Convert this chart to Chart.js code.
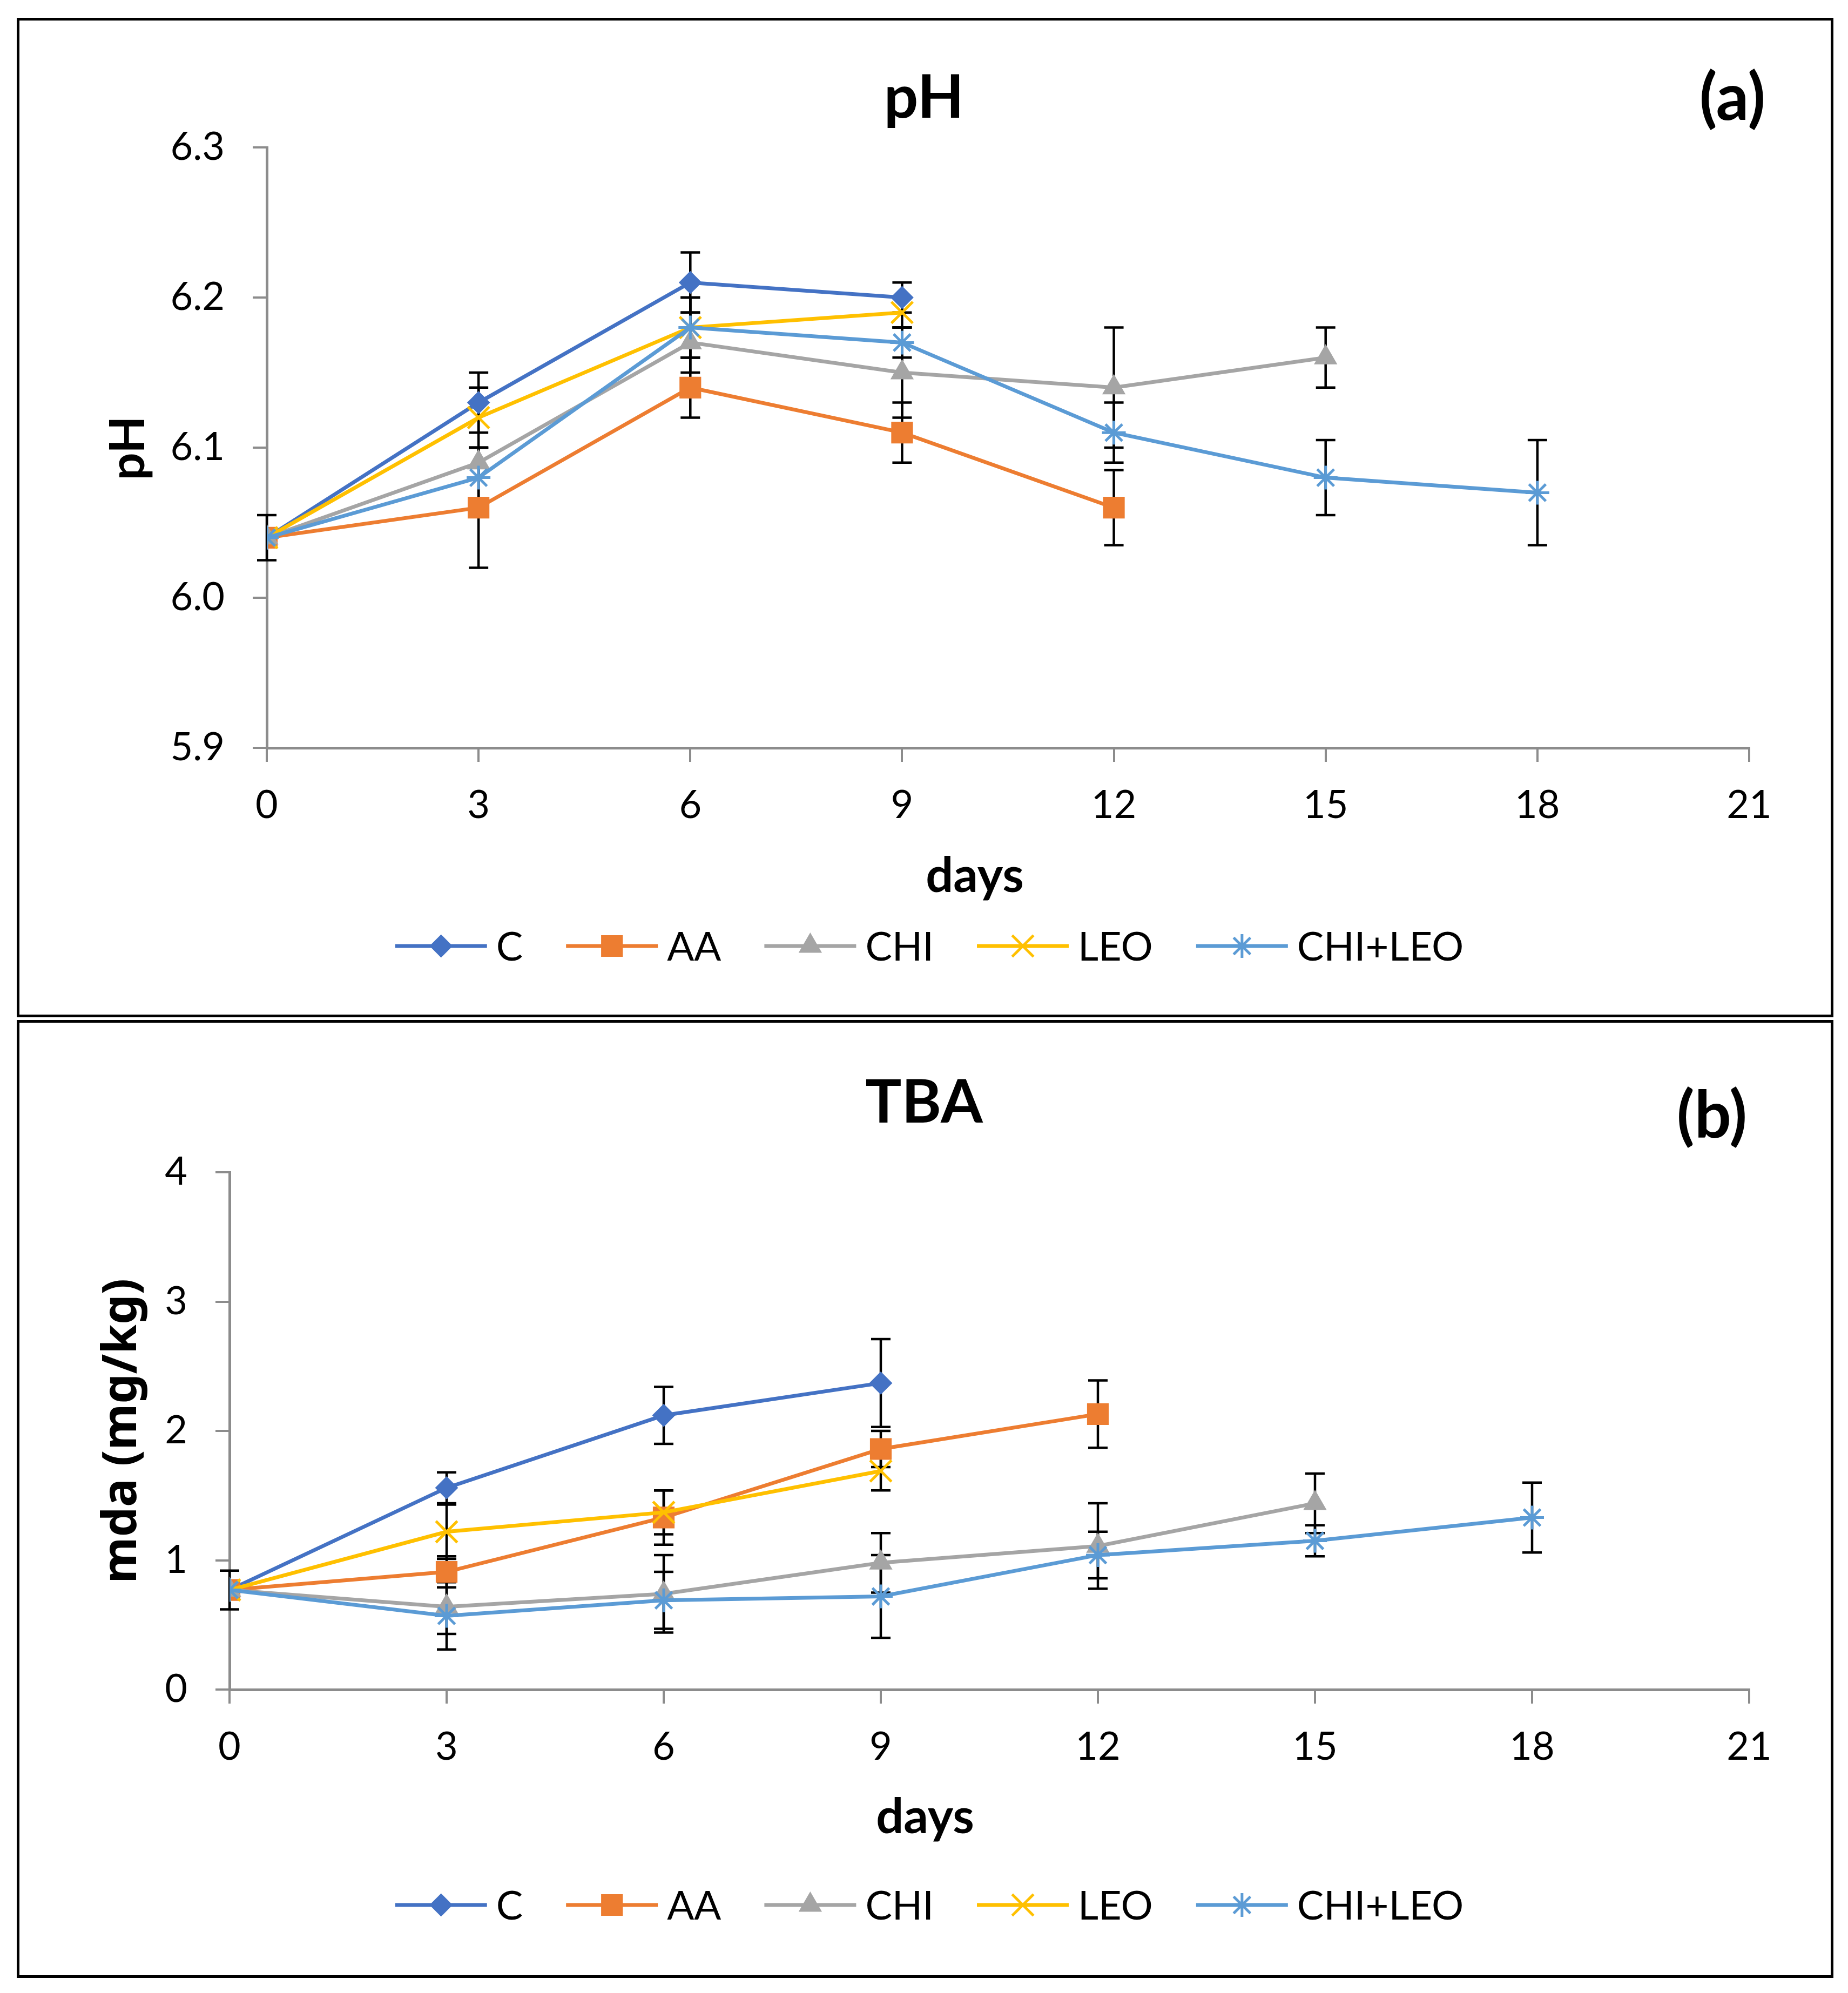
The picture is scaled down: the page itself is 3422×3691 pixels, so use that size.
<!DOCTYPE html>
<html>
<head>
<meta charset="utf-8">
<script src="https://cdn.jsdelivr.net/npm/chart.js@4.4.1/dist/chart.umd.min.js"></script>
<style>
  html, body { margin: 0; padding: 0; background: #fff; }
  body { width: 3422px; height: 3691px; position: relative; overflow: hidden; }
  canvas { position: absolute; left: 0; }
  .box { position: absolute; border: 5px solid #000; box-sizing: border-box; }
</style>
</head>
<body>
<canvas id="phChart" width="3422" height="1887" style="top:0"></canvas>
<canvas id="tbaChart" width="3422" height="1804" style="top:1887px"></canvas>
<div class="box" style="left:31px;top:33px;width:3364px;height:1851px"></div>
<div class="box" style="left:31px;top:1889px;width:3364px;height:1774px"></div>
<script>
// sampling days and groups
const days = [0, 3, 6, 9, 12, 15, 18];
const groups = ['C', 'AA', 'CHI', 'LEO', 'CHI+LEO'];
const dayTicks = [0, 3, 6, 9, 12, 15, 18, 21];

// (a) pH, mean and +/- error
const phTicks = [5.9, 6.0, 6.1, 6.2, 6.3];
const phC = [6.04, 6.13, 6.21, 6.20];
const phAA = [6.04, 6.06, 6.14, 6.11, 6.06];
const phCHI = [6.04, 6.09, 6.17, 6.15, 6.14, 6.16];
const phLEO = [6.04, 6.12, 6.18, 6.19];
const phCHILEO = [6.04, 6.08, 6.18, 6.17, 6.11, 6.08, 6.07];
const phErrC = [0.015, 0.02, 0.02, 0.01];
const phErrAA = [0, 0.04, 0.02, 0.02, 0.025];
const phErrCHI = [0, 0.01, 0.02, 0.03, 0.04, 0.02];
const phErrLEO = [0, 0.02, 0.02, 0.01];
const phErrCHILEO = [0, 0.02, 0.02, 0.01, 0.02, 0.025, 0.035];

// (b) TBA, mda (mg/kg)
const tbaTicks = [0, 1, 2, 3, 4];
const tbaC = [0.77, 1.56, 2.12, 2.37];
const tbaAA = [0.77, 0.91, 1.33, 1.86, 2.13];
const tbaCHI = [0.77, 0.64, 0.74, 0.98, 1.11, 1.44];
const tbaLEO = [0.77, 1.22, 1.37, 1.69];
const tbaCHILEO = [0.77, 0.57, 0.69, 0.72, 1.04, 1.15, 1.33];
const tbaErrC = [0.15, 0.12, 0.22, 0.34];
const tbaErrAA = [0, 0.12, 0.21, 0.14, 0.26];
const tbaErrCHI = [0, 0.21, 0.3, 0.23, 0.33, 0.23];
const tbaErrLEO = [0, 0.21, 0.17, 0.15];
const tbaErrCHILEO = [0, 0.26, 0.22, 0.32, 0.18, 0.12, 0.27];

const looks = [
  { color: '#4472C4', point: 'rectRot', r: 20, bw: 2 },
  { color: '#ED7D31', point: 'rect', r: 27, bw: 2 },
  { color: '#A5A5A5', point: 'triangle', r: 23, bw: 2 },
  { color: '#FFC000', point: 'crossRot', r: 28, bw: 5 },
  { color: '#5B9BD5', point: 'star', r: 22, bw: 5 }
];

Chart.defaults.font.family = 'Lato';
const AXIS = '#8c8c8c';

function makeSets(series, errors) {
  return series.map((vals, i) => ({
    label: groups[i],
    data: vals.map((v, j) => ({ x: days[j], y: v })),
    errors: errors[i],
    borderColor: looks[i].color,
    backgroundColor: looks[i].color,
    borderWidth: 7,
    pointStyle: looks[i].point,
    pointRadius: looks[i].r,
    pointBackgroundColor: looks[i].color,
    pointBorderColor: looks[i].color,
    pointBorderWidth: looks[i].bw,
    tension: 0,
    order: series.length - i
  }));
}

// whiskers drawn under the lines and markers
const errorBars = {
  id: 'errorBars',
  beforeDatasetsDraw(chart) {
    const { ctx, scales: { y } } = chart;
    ctx.save();
    ctx.strokeStyle = '#000';
    ctx.lineWidth = 4.5;
    chart.data.datasets.forEach((ds, i) => {
      chart.getDatasetMeta(i).data.forEach((pt, j) => {
        const e = ds.errors[j];
        if (!e) return;
        const v = ds.data[j].y;
        const top = y.getPixelForValue(v + e);
        const bot = y.getPixelForValue(v - e);
        ctx.beginPath();
        ctx.moveTo(pt.x, top); ctx.lineTo(pt.x, bot);
        ctx.moveTo(pt.x - 18, top); ctx.lineTo(pt.x + 18, top);
        ctx.moveTo(pt.x - 18, bot); ctx.lineTo(pt.x + 18, bot);
        ctx.stroke();
      });
    });
    ctx.restore();
  }
};

// titles, panel tag, axis titles and the Excel-like legend
const decor = {
  id: 'decor',
  afterDraw(chart, args, o) {
    const ctx = chart.ctx;
    ctx.save();
    ctx.fillStyle = '#000';
    ctx.textAlign = 'center';
    ctx.textBaseline = 'alphabetic';
    ctx.font = 'bold 112px Lato';
    ctx.fillText(o.title, o.titleX, o.titleY);
    ctx.font = 'bold 120px Lato';
    ctx.fillText(o.tag, o.tagX, o.tagY);
    ctx.font = 'bold 90px Lato';
    ctx.fillText('days', o.xTitleX, o.xTitleY);

    ctx.save();
    ctx.translate(o.yTitleX, o.yTitleY);
    ctx.rotate(-Math.PI / 2);
    ctx.textBaseline = 'middle';
    ctx.font = o.yTitleFont;
    ctx.fillText(o.yTitle, 0, 0);
    ctx.restore();

    // legend
    ctx.font = '74px Lato';
    ctx.textAlign = 'left';
    ctx.textBaseline = 'middle';
    const lineLen = 170, gapText = 17, gapItem = 80;
    const widths = groups.map(g => ctx.measureText(g).width);
    const total = widths.reduce((s, w) => s + lineLen + gapText + w, 0) + gapItem * (groups.length - 1);
    let x = o.legendX - total / 2;
    const cy = o.legendY;
    chart.data.datasets.forEach((ds, i) => {
      ctx.strokeStyle = ds.borderColor;
      ctx.lineWidth = 7;
      ctx.beginPath();
      ctx.moveTo(x, cy); ctx.lineTo(x + lineLen, cy);
      ctx.stroke();
      ctx.fillStyle = ds.pointBackgroundColor;
      ctx.strokeStyle = ds.pointBorderColor;
      ctx.lineWidth = ds.pointBorderWidth;
      Chart.helpers.drawPoint(ctx, {
        pointStyle: ds.pointStyle, radius: ds.pointRadius, rotation: 0, borderWidth: ds.pointBorderWidth
      }, x + lineLen / 2, cy);
      ctx.fillStyle = '#000';
      ctx.fillText(ds.label, x + lineLen + gapText, cy + 3);
      x += lineLen + gapText + widths[i] + gapItem;
    });
    ctx.restore();
  }
};

function scalesFor(tickVals, yMin, yMax, fmt, yWidth) {
  return {
    x: {
      type: 'linear', min: 0, max: 21,
      afterBuildTicks: s => { s.ticks = dayTicks.map(v => ({ value: v })); },
      afterFit: s => { s.height = 200; },
      grid: { drawOnChartArea: false, drawTicks: true, tickLength: 26, color: AXIS, lineWidth: 4 },
      border: { color: AXIS, width: 5 },
      ticks: { color: '#000', font: { size: 72 }, padding: 38, maxRotation: 0 }
    },
    y: {
      type: 'linear', min: yMin, max: yMax,
      afterBuildTicks: s => { s.ticks = tickVals.map(v => ({ value: v })); },
      afterFit: s => { s.width = yWidth; },
      grid: { drawOnChartArea: false, drawTicks: true, tickLength: 26, color: AXIS, lineWidth: 4 },
      border: { color: AXIS, width: 5 },
      ticks: { color: '#000', font: { size: 72 }, padding: 52, callback: fmt }
    }
  };
}

new Chart(document.getElementById('phChart'), {
  type: 'line',
  data: {
    datasets: makeSets([phC, phAA, phCHI, phLEO, phCHILEO],
                       [phErrC, phErrAA, phErrCHI, phErrLEO, phErrCHILEO])
  },
  options: {
    responsive: false,
    animation: false,
    devicePixelRatio: 1,
    layout: { padding: { left: 0, top: 273, right: 183, bottom: 302 } },
    scales: scalesFor(phTicks, 5.9, 6.3, v => Number(v).toFixed(1), 494),
    plugins: {
      legend: { display: false },
      tooltip: { enabled: false },
      decor: {
        title: 'pH', titleX: 1711, titleY: 218,
        tag: '(a)', tagX: 3208, tagY: 222,
        xTitleX: 1805, xTitleY: 1652,
        yTitle: 'pH', yTitleX: 238, yTitleY: 830, yTitleFont: 'bold 90px Lato',
        legendX: 1721, legendY: 1752
      }
    }
  },
  plugins: [errorBars, decor]
});

new Chart(document.getElementById('tbaChart'), {
  type: 'line',
  data: {
    datasets: makeSets([tbaC, tbaAA, tbaCHI, tbaLEO, tbaCHILEO],
                       [tbaErrC, tbaErrAA, tbaErrCHI, tbaErrLEO, tbaErrCHILEO])
  },
  options: {
    responsive: false,
    animation: false,
    devicePixelRatio: 1,
    layout: { padding: { left: 0, top: 284, right: 183, bottom: 362 } },
    scales: scalesFor(tbaTicks, 0, 4, v => String(v), 425),
    plugins: {
      legend: { display: false },
      tooltip: { enabled: false },
      decor: {
        title: 'TBA', titleX: 1711, titleY: 192,
        tag: '(b)', tagX: 3170, tagY: 220,
        xTitleX: 1713, xTitleY: 1508,
        yTitle: 'mda (mg/kg)', yTitleX: 227, yTitleY: 763, yTitleFont: 'bold 88px "Noto Sans"',
        legendX: 1721, legendY: 1641
      }
    }
  },
  plugins: [errorBars, decor]
});
</script>
</body>
</html>
